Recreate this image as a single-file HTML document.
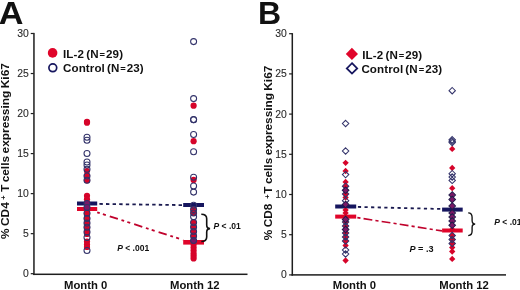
<!DOCTYPE html>
<html><head><meta charset="utf-8"><style>
html,body{margin:0;padding:0;background:#fff;}
svg{display:block;will-change:transform;filter:blur(0.3px);font-family:"Liberation Sans",sans-serif;}
</style></head><body>
<svg width="520" height="290" viewBox="0 0 520 290">
<rect width="520" height="290" fill="#fff"/>
<text transform="translate(-1.3,23.9) scale(1.07,1)" font-size="32" font-weight="bold" fill="#111">A</text>
<text x="257.9" y="23.9" font-size="32" font-weight="bold" fill="#111">B</text>
<rect x="33.20" y="32.89" width="1.5" height="242.16" fill="#1e1e1e"/>
<rect x="33.20" y="273.55" width="214.30" height="1.5" fill="#1e1e1e"/>
<rect x="30.75" y="273.10" width="3" height="1.2" fill="#1e1e1e"/>
<text x="28.9" y="277.20" font-size="10.4" text-anchor="end" fill="#2a2a2a" stroke="#2a2a2a" stroke-width="0.1">0</text>
<rect x="30.75" y="233.06" width="3" height="1.2" fill="#1e1e1e"/>
<text x="28.9" y="237.16" font-size="10.4" text-anchor="end" fill="#2a2a2a" stroke="#2a2a2a" stroke-width="0.1">5</text>
<rect x="30.75" y="193.03" width="3" height="1.2" fill="#1e1e1e"/>
<text x="28.9" y="197.13" font-size="10.4" text-anchor="end" fill="#2a2a2a" stroke="#2a2a2a" stroke-width="0.1">10</text>
<rect x="30.75" y="153.00" width="3" height="1.2" fill="#1e1e1e"/>
<text x="28.9" y="157.09" font-size="10.4" text-anchor="end" fill="#2a2a2a" stroke="#2a2a2a" stroke-width="0.1">15</text>
<rect x="30.75" y="112.96" width="3" height="1.2" fill="#1e1e1e"/>
<text x="28.9" y="117.06" font-size="10.4" text-anchor="end" fill="#2a2a2a" stroke="#2a2a2a" stroke-width="0.1">20</text>
<rect x="30.75" y="72.93" width="3" height="1.2" fill="#1e1e1e"/>
<text x="28.9" y="77.03" font-size="10.4" text-anchor="end" fill="#2a2a2a" stroke="#2a2a2a" stroke-width="0.1">25</text>
<rect x="30.75" y="32.89" width="3" height="1.2" fill="#1e1e1e"/>
<text x="28.9" y="36.99" font-size="10.4" text-anchor="end" fill="#2a2a2a" stroke="#2a2a2a" stroke-width="0.1">30</text>
<rect x="291.55" y="33.10" width="1.5" height="242.55" fill="#1e1e1e"/>
<rect x="291.55" y="274.15" width="214.45" height="1.5" fill="#1e1e1e"/>
<rect x="289.10" y="274.30" width="3" height="1.2" fill="#1e1e1e"/>
<text x="286.8" y="278.40" font-size="10.4" text-anchor="end" fill="#2a2a2a" stroke="#2a2a2a" stroke-width="0.1">0</text>
<rect x="289.10" y="234.10" width="3" height="1.2" fill="#1e1e1e"/>
<text x="286.8" y="238.20" font-size="10.4" text-anchor="end" fill="#2a2a2a" stroke="#2a2a2a" stroke-width="0.1">5</text>
<rect x="289.10" y="193.90" width="3" height="1.2" fill="#1e1e1e"/>
<text x="286.8" y="198.00" font-size="10.4" text-anchor="end" fill="#2a2a2a" stroke="#2a2a2a" stroke-width="0.1">10</text>
<rect x="289.10" y="153.70" width="3" height="1.2" fill="#1e1e1e"/>
<text x="286.8" y="157.80" font-size="10.4" text-anchor="end" fill="#2a2a2a" stroke="#2a2a2a" stroke-width="0.1">15</text>
<rect x="289.10" y="113.50" width="3" height="1.2" fill="#1e1e1e"/>
<text x="286.8" y="117.60" font-size="10.4" text-anchor="end" fill="#2a2a2a" stroke="#2a2a2a" stroke-width="0.1">20</text>
<rect x="289.10" y="73.30" width="3" height="1.2" fill="#1e1e1e"/>
<text x="286.8" y="77.40" font-size="10.4" text-anchor="end" fill="#2a2a2a" stroke="#2a2a2a" stroke-width="0.1">25</text>
<rect x="289.10" y="33.10" width="3" height="1.2" fill="#1e1e1e"/>
<text x="286.8" y="37.20" font-size="10.4" text-anchor="end" fill="#2a2a2a" stroke="#2a2a2a" stroke-width="0.1">30</text>
<text transform="translate(8.7,151.1) rotate(-90) scale(1.155,1)" font-size="10.3" word-spacing="-0.7" font-weight="bold" text-anchor="middle" fill="#111">% CD4<tspan font-size="6.5" dx="2.2" dy="-2.4">+</tspan><tspan dx="0.6" dy="2.4"> T cells expressing Ki67</tspan></text>
<text transform="translate(272.2,153) rotate(-90) scale(1.145,1)" font-size="10.3" word-spacing="-0.7" font-weight="bold" text-anchor="middle" fill="#111">% CD8<tspan font-size="6.5" dx="4.3" dy="-2.4">+</tspan><tspan dx="-1.5" dy="2.4"> T cells expressing Ki67</tspan></text>
<text x="64.0" y="289" font-size="11.3" font-weight="bold" fill="#111">Month 0</text>
<text x="170.0" y="289" font-size="11.3" font-weight="bold" fill="#111">Month 12</text>
<text x="332.8" y="289" font-size="11.3" font-weight="bold" fill="#111">Month 0</text>
<text x="439.3" y="289" font-size="11.3" font-weight="bold" fill="#111">Month 12</text>
<circle cx="52.6" cy="52.9" r="4.8" fill="#e0052a"/>
<circle cx="52.8" cy="67.8" r="3.9" fill="none" stroke="#16165e" stroke-width="1.7"/>
<text x="63.0" y="57.8" font-size="11.6" font-weight="bold" letter-spacing="0.1" word-spacing="-1.1" fill="#111">IL-2 (N<tspan font-size="9.4" dx="0.9">=</tspan><tspan dx="0.9">29)</tspan></text>
<text x="63.0" y="71.9" font-size="11.6" font-weight="bold" letter-spacing="0.1" word-spacing="-1.3" fill="#111">Control (N<tspan font-size="9.4" dx="0.9">=</tspan><tspan dx="0.9">23)</tspan></text>
<path d="M351.9,47.8 L358.0,53.9 L351.9,60.0 L345.79999999999995,53.9 Z" fill="#e0052a"/>
<path d="M352.0,63.2 L357.2,68.4 L352.0,73.60000000000001 L346.8,68.4 Z" fill="none" stroke="#16165e" stroke-width="1.8"/>
<text x="362.2" y="58.5" font-size="11.6" font-weight="bold" letter-spacing="0.1" word-spacing="-1.1" fill="#111">IL-2 (N<tspan font-size="9.4" dx="0.9">=</tspan><tspan dx="0.9">29)</tspan></text>
<text x="361.4" y="73.0" font-size="11.6" font-weight="bold" letter-spacing="0.1" word-spacing="-1.3" fill="#111">Control (N<tspan font-size="9.4" dx="0.9">=</tspan><tspan dx="0.9">23)</tspan></text>
<line x1="97.2" y1="203.9" x2="183.2" y2="205.1" stroke="#1a1a50" stroke-width="1.8" stroke-dasharray="3.4 3.2" stroke-dashoffset="4.4"/>
<line x1="97.2" y1="212.3" x2="183.2" y2="240.0" stroke="#c0022c" stroke-width="1.8" stroke-dasharray="8.5 3.8 2.8 3.3 3.1 4.15" stroke-dashoffset="12.44"/>
<line x1="356.3" y1="206.9" x2="442" y2="209.0" stroke="#1a1a50" stroke-width="1.8" stroke-dasharray="3.2 3.4" stroke-dashoffset="5.0"/>
<line x1="356.3" y1="217.5" x2="442" y2="230.9" stroke="#c0022c" stroke-width="1.6" stroke-dasharray="8.85 3.15 3.15 3.15" stroke-dashoffset="10.96"/>
<rect x="77" y="201.50" width="20.200000000000003" height="4.0" fill="#16165e"/>
<rect x="77" y="207.00" width="20.200000000000003" height="4.0" fill="#e0052a"/>
<rect x="183.2" y="203.00" width="20.80000000000001" height="4.0" fill="#16165e"/>
<rect x="183.2" y="240.00" width="20.80000000000001" height="4.6" fill="#e0052a"/>
<rect x="335.2" y="204.50" width="21.0" height="4.0" fill="#16165e"/>
<rect x="335.2" y="214.60" width="21.0" height="4.0" fill="#e0052a"/>
<rect x="442.1" y="207.60" width="20.599999999999966" height="4.0" fill="#16165e"/>
<rect x="442.1" y="228.50" width="20.599999999999966" height="4.0" fill="#e0052a"/>
<circle cx="87.0" cy="121.8" r="3.1" fill="#d6042a"/>
<circle cx="87.0" cy="122.7" r="3.1" fill="#d6042a"/>
<circle cx="87.0" cy="171" r="3.1" fill="#d6042a"/>
<circle cx="87.0" cy="175.5" r="3.1" fill="#d6042a"/>
<circle cx="87.0" cy="180.3" r="3.1" fill="#d6042a"/>
<circle cx="87.0" cy="195.8" r="3.1" fill="#d6042a"/>
<circle cx="87.0" cy="199.3" r="3.1" fill="#d6042a"/>
<circle cx="87.0" cy="210" r="3.1" fill="#d6042a"/>
<circle cx="87.0" cy="213.3" r="3.1" fill="#d6042a"/>
<circle cx="87.0" cy="215.8" r="3.1" fill="#d6042a"/>
<circle cx="87.0" cy="218.4" r="3.1" fill="#d6042a"/>
<circle cx="87.0" cy="220.7" r="3.1" fill="#d6042a"/>
<circle cx="87.0" cy="223.1" r="3.1" fill="#d6042a"/>
<circle cx="87.0" cy="225.1" r="3.1" fill="#d6042a"/>
<circle cx="87.0" cy="227.2" r="3.1" fill="#d6042a"/>
<circle cx="87.0" cy="229.5" r="3.1" fill="#d6042a"/>
<circle cx="87.0" cy="231.9" r="3.1" fill="#d6042a"/>
<circle cx="87.0" cy="234" r="3.1" fill="#d6042a"/>
<circle cx="87.0" cy="241.5" r="3.1" fill="#d6042a"/>
<circle cx="87.0" cy="244.5" r="3.1" fill="#d6042a"/>
<circle cx="87.0" cy="247" r="3.1" fill="#d6042a"/>
<circle cx="87.0" cy="203.5" r="3.0" fill="#7a1866" stroke="#33336a" stroke-width="1.05"/>
<circle cx="87.0" cy="207.5" r="3.0" fill="#7a1866" stroke="#33336a" stroke-width="1.05"/>
<circle cx="87.0" cy="137.3" r="3.0" fill="none" stroke="#33336a" stroke-width="1.05"/>
<circle cx="87.0" cy="140.3" r="3.0" fill="none" stroke="#33336a" stroke-width="1.05"/>
<circle cx="87.0" cy="153.5" r="3.0" fill="none" stroke="#33336a" stroke-width="1.05"/>
<circle cx="87.0" cy="162" r="3.0" fill="none" stroke="#33336a" stroke-width="1.05"/>
<circle cx="87.0" cy="165" r="3.0" fill="none" stroke="#33336a" stroke-width="1.05"/>
<circle cx="87.0" cy="169.3" r="3.0" fill="none" stroke="#33336a" stroke-width="1.05"/>
<circle cx="87.0" cy="176" r="3.0" fill="none" stroke="#33336a" stroke-width="1.05"/>
<circle cx="87.0" cy="180.3" r="3.0" fill="none" stroke="#33336a" stroke-width="1.05"/>
<circle cx="87.0" cy="213.3" r="3.0" fill="none" stroke="#33336a" stroke-width="1.05"/>
<circle cx="87.0" cy="218.4" r="3.0" fill="none" stroke="#33336a" stroke-width="1.05"/>
<circle cx="87.0" cy="223.1" r="3.0" fill="none" stroke="#33336a" stroke-width="1.05"/>
<circle cx="87.0" cy="227.2" r="3.0" fill="none" stroke="#33336a" stroke-width="1.05"/>
<circle cx="87.0" cy="231.9" r="3.0" fill="none" stroke="#33336a" stroke-width="1.05"/>
<circle cx="87.0" cy="237.5" r="3.0" fill="none" stroke="#33336a" stroke-width="1.05"/>
<circle cx="87.0" cy="250.5" r="3.0" fill="none" stroke="#33336a" stroke-width="1.05"/>
<circle cx="193.6" cy="105.7" r="3.1" fill="#d6042a"/>
<circle cx="193.6" cy="141.2" r="3.1" fill="#d6042a"/>
<circle cx="193.6" cy="179.9" r="3.1" fill="#d6042a"/>
<circle cx="193.6" cy="209.5" r="3.1" fill="#d6042a"/>
<circle cx="193.6" cy="213" r="3.1" fill="#d6042a"/>
<circle cx="193.6" cy="222.5" r="3.1" fill="#d6042a"/>
<circle cx="193.6" cy="227" r="3.1" fill="#d6042a"/>
<circle cx="193.6" cy="231.5" r="3.1" fill="#d6042a"/>
<circle cx="193.6" cy="236" r="3.1" fill="#d6042a"/>
<circle cx="193.6" cy="244.5" r="3.1" fill="#d6042a"/>
<circle cx="193.6" cy="247.5" r="3.1" fill="#d6042a"/>
<circle cx="193.6" cy="250.5" r="3.1" fill="#d6042a"/>
<circle cx="193.6" cy="253.5" r="3.1" fill="#d6042a"/>
<circle cx="193.6" cy="256" r="3.1" fill="#d6042a"/>
<circle cx="193.6" cy="258.5" r="3.1" fill="#d6042a"/>
<circle cx="193.6" cy="240.5" r="3.0" fill="#7a1866" stroke="#33336a" stroke-width="1.05"/>
<circle cx="193.6" cy="41.6" r="3.0" fill="none" stroke="#33336a" stroke-width="1.05"/>
<circle cx="193.6" cy="98.6" r="3.0" fill="none" stroke="#33336a" stroke-width="1.05"/>
<circle cx="193.6" cy="119.6" r="3.0" fill="none" stroke="#33336a" stroke-width="1.05"/>
<circle cx="193.6" cy="119.8" r="3.0" fill="none" stroke="#33336a" stroke-width="1.05"/>
<circle cx="193.6" cy="134.5" r="3.0" fill="none" stroke="#33336a" stroke-width="1.05"/>
<circle cx="193.6" cy="151.8" r="3.0" fill="none" stroke="#33336a" stroke-width="1.05"/>
<circle cx="193.6" cy="177.2" r="3.0" fill="none" stroke="#33336a" stroke-width="1.05"/>
<circle cx="193.6" cy="185.9" r="3.0" fill="none" stroke="#33336a" stroke-width="1.05"/>
<circle cx="193.6" cy="192.1" r="3.0" fill="none" stroke="#33336a" stroke-width="1.05"/>
<circle cx="193.6" cy="205.3" r="3.0" fill="none" stroke="#33336a" stroke-width="1.05"/>
<circle cx="193.6" cy="209.5" r="3.0" fill="none" stroke="#33336a" stroke-width="1.05"/>
<circle cx="193.6" cy="213" r="3.0" fill="none" stroke="#33336a" stroke-width="1.05"/>
<circle cx="193.6" cy="216.8" r="3.0" fill="none" stroke="#33336a" stroke-width="1.05"/>
<circle cx="193.6" cy="222.5" r="3.0" fill="none" stroke="#33336a" stroke-width="1.05"/>
<circle cx="193.6" cy="227" r="3.0" fill="none" stroke="#33336a" stroke-width="1.05"/>
<circle cx="193.6" cy="231.5" r="3.0" fill="none" stroke="#33336a" stroke-width="1.05"/>
<circle cx="193.6" cy="236" r="3.0" fill="none" stroke="#33336a" stroke-width="1.05"/>
<path d="M345.6,159.65 L348.75,162.8 L345.6,165.95 L342.45000000000005,162.8 Z" fill="#d6042a"/>
<path d="M345.6,167.85 L348.75,171 L345.6,174.15 L342.45000000000005,171 Z" fill="#d6042a"/>
<path d="M345.6,178.85 L348.75,182 L345.6,185.15 L342.45000000000005,182 Z" fill="#d6042a"/>
<path d="M345.6,183.05 L348.75,186.2 L345.6,189.35 L342.45000000000005,186.2 Z" fill="#d6042a"/>
<path d="M345.6,187.15 L348.75,190.3 L345.6,193.45 L342.45000000000005,190.3 Z" fill="#d6042a"/>
<path d="M345.6,190.85 L348.75,194 L345.6,197.15 L342.45000000000005,194 Z" fill="#d6042a"/>
<path d="M345.6,194.35 L348.75,197.5 L345.6,200.65 L342.45000000000005,197.5 Z" fill="#d6042a"/>
<path d="M345.6,206.85 L348.75,210 L345.6,213.15 L342.45000000000005,210 Z" fill="#d6042a"/>
<path d="M345.6,209.85 L348.75,213 L345.6,216.15 L342.45000000000005,213 Z" fill="#d6042a"/>
<path d="M345.6,218.85 L348.75,222 L345.6,225.15 L342.45000000000005,222 Z" fill="#d6042a"/>
<path d="M345.6,222.85 L348.75,226 L345.6,229.15 L342.45000000000005,226 Z" fill="#d6042a"/>
<path d="M345.6,226.35 L348.75,229.5 L345.6,232.65 L342.45000000000005,229.5 Z" fill="#d6042a"/>
<path d="M345.6,229.85 L348.75,233 L345.6,236.15 L342.45000000000005,233 Z" fill="#d6042a"/>
<path d="M345.6,233.85 L348.75,237 L345.6,240.15 L342.45000000000005,237 Z" fill="#d6042a"/>
<path d="M345.6,237.85 L348.75,241 L345.6,244.15 L342.45000000000005,241 Z" fill="#d6042a"/>
<path d="M345.6,242.35 L348.75,245.5 L345.6,248.65 L342.45000000000005,245.5 Z" fill="#d6042a"/>
<path d="M345.6,257.35 L348.75,260.5 L345.6,263.65 L342.45000000000005,260.5 Z" fill="#d6042a"/>
<path d="M345.6,120.30 L348.8,123.5 L345.6,126.70 L342.40000000000003,123.5 Z" fill="none" stroke="#33336a" stroke-width="1.05"/>
<path d="M345.6,147.80 L348.8,151 L345.6,154.20 L342.40000000000003,151 Z" fill="none" stroke="#33336a" stroke-width="1.05"/>
<path d="M345.6,171.40 L348.8,174.6 L345.6,177.80 L342.40000000000003,174.6 Z" fill="none" stroke="#33336a" stroke-width="1.05"/>
<path d="M345.6,183.00 L348.8,186.2 L345.6,189.40 L342.40000000000003,186.2 Z" fill="none" stroke="#33336a" stroke-width="1.05"/>
<path d="M345.6,190.80 L348.8,194 L345.6,197.20 L342.40000000000003,194 Z" fill="none" stroke="#33336a" stroke-width="1.05"/>
<path d="M345.6,197.50 L348.8,200.7 L345.6,203.90 L342.40000000000003,200.7 Z" fill="none" stroke="#33336a" stroke-width="1.05"/>
<path d="M345.6,218.80 L348.8,222 L345.6,225.20 L342.40000000000003,222 Z" fill="none" stroke="#33336a" stroke-width="1.05"/>
<path d="M345.6,222.80 L348.8,226 L345.6,229.20 L342.40000000000003,226 Z" fill="none" stroke="#33336a" stroke-width="1.05"/>
<path d="M345.6,229.80 L348.8,233 L345.6,236.20 L342.40000000000003,233 Z" fill="none" stroke="#33336a" stroke-width="1.05"/>
<path d="M345.6,233.80 L348.8,237 L345.6,240.20 L342.40000000000003,237 Z" fill="none" stroke="#33336a" stroke-width="1.05"/>
<path d="M345.6,237.80 L348.8,241 L345.6,244.20 L342.40000000000003,241 Z" fill="none" stroke="#33336a" stroke-width="1.05"/>
<path d="M345.6,246.80 L348.8,250 L345.6,253.20 L342.40000000000003,250 Z" fill="none" stroke="#33336a" stroke-width="1.05"/>
<path d="M345.6,250.80 L348.8,254 L345.6,257.20 L342.40000000000003,254 Z" fill="none" stroke="#33336a" stroke-width="1.05"/>
<path d="M345.6,187.00 L348.90000000000003,190.3 L345.6,193.60 L342.3,190.3 Z" fill="#7a1866" stroke="#221a4a" stroke-width="1.05"/>
<path d="M345.6,201.20 L348.90000000000003,204.5 L345.6,207.80 L342.3,204.5 Z" fill="#7a1866" stroke="#221a4a" stroke-width="1.05"/>
<path d="M345.6,216.20 L348.90000000000003,219.5 L345.6,222.80 L342.3,219.5 Z" fill="#7a1866" stroke="#221a4a" stroke-width="1.05"/>
<path d="M345.6,226.20 L348.90000000000003,229.5 L345.6,232.80 L342.3,229.5 Z" fill="#7a1866" stroke="#221a4a" stroke-width="1.05"/>
<path d="M452.2,145.75 L455.34999999999997,148.9 L452.2,152.05 L449.05,148.9 Z" fill="#d6042a"/>
<path d="M452.2,164.75 L455.34999999999997,167.9 L452.2,171.05 L449.05,167.9 Z" fill="#d6042a"/>
<path d="M452.2,185.05 L455.34999999999997,188.2 L452.2,191.35 L449.05,188.2 Z" fill="#d6042a"/>
<path d="M452.2,226.35 L455.34999999999997,229.5 L452.2,232.65 L449.05,229.5 Z" fill="#d6042a"/>
<path d="M452.2,232.35 L455.34999999999997,235.5 L452.2,238.65 L449.05,235.5 Z" fill="#d6042a"/>
<path d="M452.2,236.35 L455.34999999999997,239.5 L452.2,242.65 L449.05,239.5 Z" fill="#d6042a"/>
<path d="M452.2,240.35 L455.34999999999997,243.5 L452.2,246.65 L449.05,243.5 Z" fill="#d6042a"/>
<path d="M452.2,244.35 L455.34999999999997,247.5 L452.2,250.65 L449.05,247.5 Z" fill="#d6042a"/>
<path d="M452.2,248.35 L455.34999999999997,251.5 L452.2,254.65 L449.05,251.5 Z" fill="#d6042a"/>
<path d="M452.2,255.75 L455.34999999999997,258.9 L452.2,262.05 L449.05,258.9 Z" fill="#d6042a"/>
<path d="M452.2,87.50 L455.4,90.7 L452.2,93.90 L449.0,90.7 Z" fill="none" stroke="#33336a" stroke-width="1.05"/>
<path d="M452.2,136.60 L455.4,139.8 L452.2,143.00 L449.0,139.8 Z" fill="none" stroke="#33336a" stroke-width="1.05"/>
<path d="M452.2,138.00 L455.4,141.2 L452.2,144.40 L449.0,141.2 Z" fill="none" stroke="#33336a" stroke-width="1.05"/>
<path d="M452.2,139.40 L455.4,142.6 L452.2,145.80 L449.0,142.6 Z" fill="none" stroke="#33336a" stroke-width="1.05"/>
<path d="M452.2,170.50 L455.4,173.7 L452.2,176.90 L449.0,173.7 Z" fill="none" stroke="#33336a" stroke-width="1.05"/>
<path d="M452.2,173.80 L455.4,177 L452.2,180.20 L449.0,177 Z" fill="none" stroke="#33336a" stroke-width="1.05"/>
<path d="M452.2,177.20 L455.4,180.4 L452.2,183.60 L449.0,180.4 Z" fill="none" stroke="#33336a" stroke-width="1.05"/>
<path d="M452.2,232.30 L455.4,235.5 L452.2,238.70 L449.0,235.5 Z" fill="none" stroke="#33336a" stroke-width="1.05"/>
<path d="M452.2,236.30 L455.4,239.5 L452.2,242.70 L449.0,239.5 Z" fill="none" stroke="#33336a" stroke-width="1.05"/>
<path d="M452.2,240.30 L455.4,243.5 L452.2,246.70 L449.0,243.5 Z" fill="none" stroke="#33336a" stroke-width="1.05"/>
<path d="M452.2,191.70 L455.5,195 L452.2,198.30 L448.9,195 Z" fill="#7a1866" stroke="#221a4a" stroke-width="1.05"/>
<path d="M452.2,196.20 L455.5,199.5 L452.2,202.80 L448.9,199.5 Z" fill="#7a1866" stroke="#221a4a" stroke-width="1.05"/>
<path d="M452.2,202.70 L455.5,206 L452.2,209.30 L448.9,206 Z" fill="#7a1866" stroke="#221a4a" stroke-width="1.05"/>
<path d="M452.2,209.70 L455.5,213 L452.2,216.30 L448.9,213 Z" fill="#7a1866" stroke="#221a4a" stroke-width="1.05"/>
<path d="M452.2,213.70 L455.5,217 L452.2,220.30 L448.9,217 Z" fill="#7a1866" stroke="#221a4a" stroke-width="1.05"/>
<path d="M452.2,217.70 L455.5,221 L452.2,224.30 L448.9,221 Z" fill="#7a1866" stroke="#221a4a" stroke-width="1.05"/>
<path d="M452.2,222.00 L455.5,225.3 L452.2,228.60 L448.9,225.3 Z" fill="#7a1866" stroke="#221a4a" stroke-width="1.05"/>
<path d="M201.3,214.3 C205.35000000000002,214.3 206.70000000000002,215.8 206.70000000000002,218.8 L206.70000000000002,225.1 C206.70000000000002,227.4 207.50000000000003,228.6 210.10000000000002,228.6 C207.50000000000003,228.6 206.70000000000002,229.79999999999998 206.70000000000002,232.1 L206.70000000000002,237.0 C206.70000000000002,240.0 205.35000000000002,241.5 201.3,241.5" fill="none" stroke="#111" stroke-width="1.6"/>
<path d="M468.2,212.8 C471.125,212.8 472.09999999999997,214.3 472.09999999999997,217.3 L472.09999999999997,220.5 C472.09999999999997,222.8 472.9,224.0 475.2,224.0 C472.9,224.0 472.09999999999997,225.2 472.09999999999997,227.5 L472.09999999999997,231.1 C472.09999999999997,234.1 471.125,235.6 468.2,235.6" fill="none" stroke="#111" stroke-width="1.35"/>
<text transform="translate(213.5,228.7) scale(1.03,1)" font-size="8.3" font-weight="bold" fill="#111"><tspan font-style="italic">P</tspan> &lt; .01</text>
<text transform="translate(117.2,251.1) scale(1.03,1)" font-size="8.3" font-weight="bold" fill="#111"><tspan font-style="italic">P</tspan> &lt; .001</text>
<text transform="translate(409.4,251.9) scale(1.1,1)" font-size="8.3" font-weight="bold" fill="#111"><tspan font-style="italic">P</tspan> = .3</text>
<text transform="translate(494.3,224.6) scale(1.03,1)" font-size="8.3" font-weight="bold" fill="#111"><tspan font-style="italic">P</tspan> &lt; .01</text>
</svg></body></html>
